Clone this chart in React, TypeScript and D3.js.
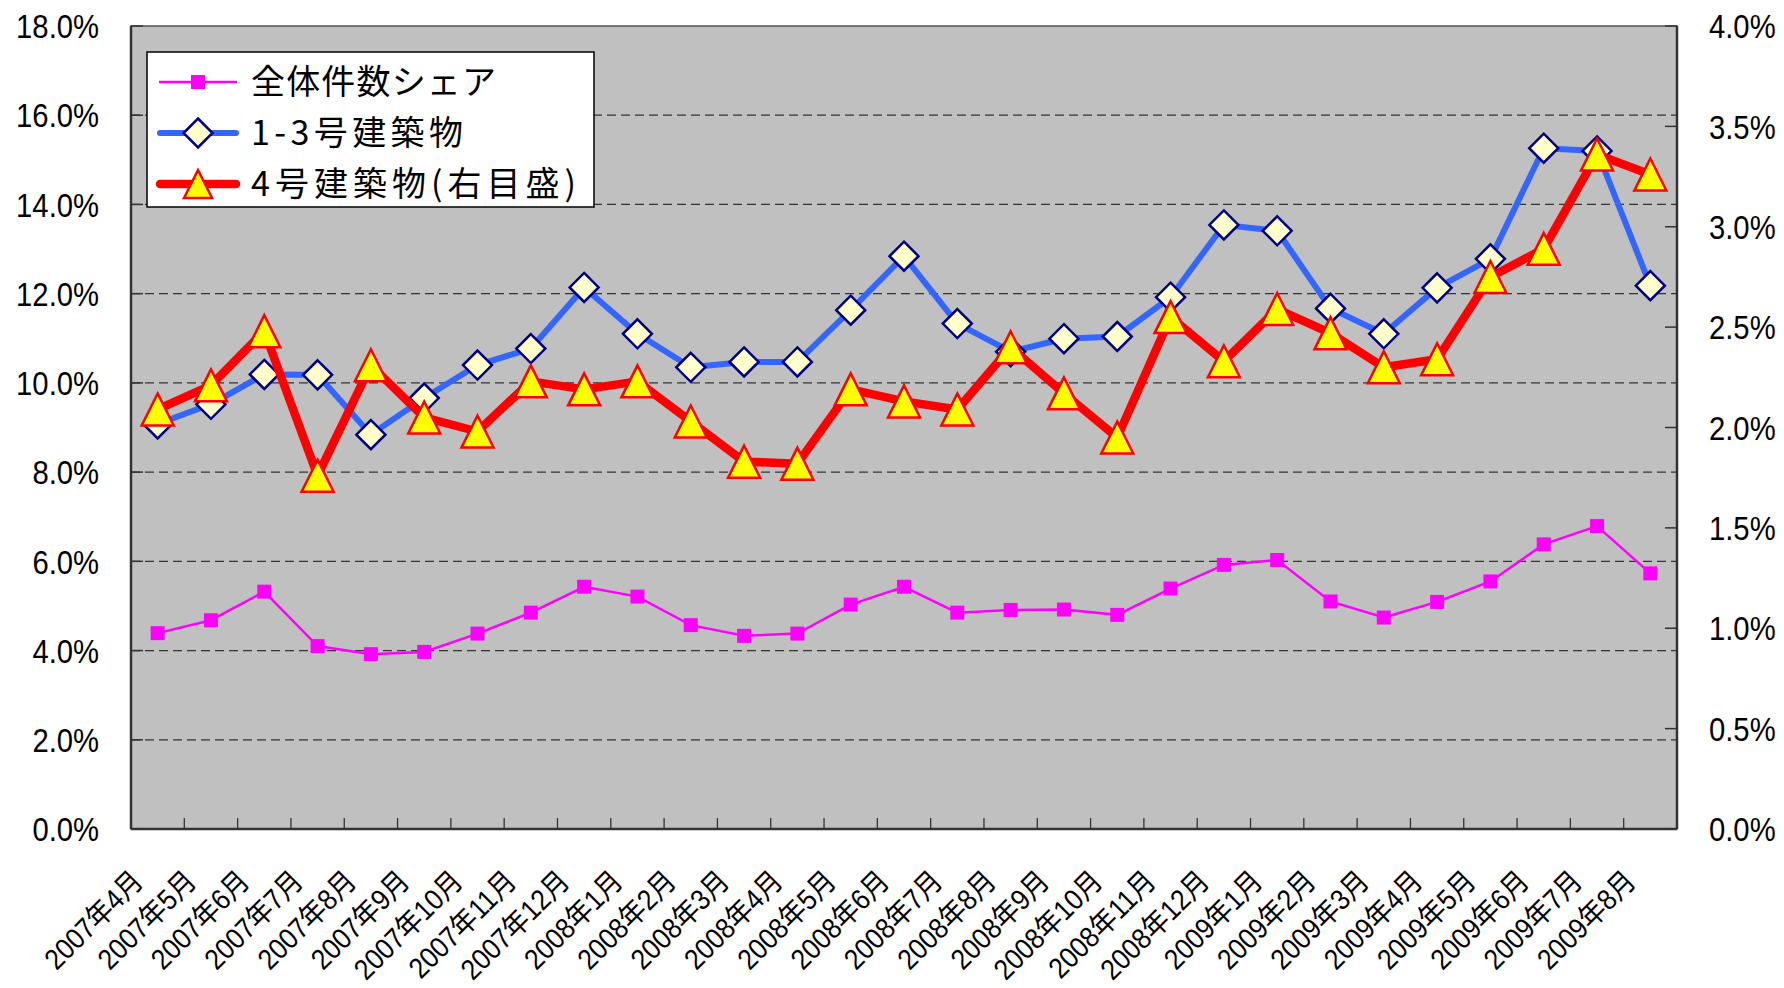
import React from "react"
import * as d3 from "d3"

const months = [
  "2007年4月", "2007年5月", "2007年6月", "2007年7月", "2007年8月", "2007年9月",
  "2007年10月", "2007年11月", "2007年12月", "2008年1月", "2008年2月", "2008年3月",
  "2008年4月", "2008年5月", "2008年6月", "2008年7月", "2008年8月", "2008年9月",
  "2008年10月", "2008年11月", "2008年12月", "2009年1月", "2009年2月", "2009年3月",
  "2009年4月", "2009年5月", "2009年6月", "2009年7月", "2009年8月",
]

// 全体件数シェア (left axis, %)
const totalShare = [
  4.39, 4.68, 5.32, 4.1, 3.92, 3.97, 4.38, 4.85, 5.43, 5.21, 4.57, 4.33, 4.38, 5.03, 5.43,
  4.85, 4.91, 4.92, 4.8, 5.39, 5.92, 6.03, 5.1, 4.74, 5.09, 5.55, 6.38, 6.79, 5.73,
]

// 1-3号建築物 (left axis, %)
const type13 = [
  9.08, 9.52, 10.19, 10.18, 8.84, 9.66, 10.4, 10.77, 12.14, 11.1, 10.35, 10.47, 10.47, 11.63,
  12.84, 11.33, 10.7, 10.99, 11.04, 11.92, 13.54, 13.41, 11.67, 11.1, 12.13, 12.78, 15.26,
  15.2, 12.18,
]

// 4号建築物 (right axis, %)
const type4 = [
  2.09, 2.21, 2.48, 1.76, 2.31, 2.05, 1.98, 2.23, 2.19, 2.23, 2.03, 1.83, 1.82, 2.19, 2.13,
  2.09, 2.4, 2.17, 1.95, 2.55, 2.33, 2.59, 2.47, 2.3, 2.34, 2.75, 2.89, 3.36, 3.26,
]

const leftTicks = [0, 2, 4, 6, 8, 10, 12, 14, 16, 18]
const rightTicks = [0, 0.5, 1, 1.5, 2, 2.5, 3, 3.5, 4]
const legendLabels = ["全体件数シェア", "1-3号建築物", "4号建築物(右目盛)"]

const W = 1784
const H = 988
const M = { left: 131, right: 1677, top: 26, bottom: 829 }

const numFont = "'Liberation Sans', Arial, 'Noto Sans CJK JP', sans-serif"
const cjkFont = "'Noto Sans CJK JP', 'Liberation Sans', sans-serif"

function Diamond({ x, y, r }: { x: number; y: number; r: number }) {
  return (
    <path
      d={`M${x},${y - r}L${x + r},${y}L${x},${y + r}L${x - r},${y}Z`}
      fill="#FFFFCC"
      stroke="#000080"
      strokeWidth={2.5}
    />
  )
}

function Triangle({ x, y, r }: { x: number; y: number; r: number }) {
  return (
    <path
      d={`M${x},${y - r}L${x + r},${y + r}L${x - r},${y + r}Z`}
      fill="#FFFF00"
      stroke="#FF0000"
      strokeWidth={2.5}
    />
  )
}

// condensed-looking axis number
function AxisNum({ x, y, anchor, children }: { x: number; y: number; anchor: string; children: any }) {
  return (
    <text
      transform={`translate(${x},${y}) scale(0.86,1)`}
      dy="0.36em"
      textAnchor={anchor}
      fontFamily={numFont}
      fontSize={34}
      fill="#000"
    >
      {children}
    </text>
  )
}

export default function App() {
  const x = d3.scaleBand<string>().domain(months).range([M.left, M.right])
  const yL = d3.scaleLinear().domain([0, 18]).range([M.bottom, M.top])
  const yR = d3.scaleLinear().domain([0, 4]).range([M.bottom, M.top])
  const cx = (i: number) => (x(months[i]) ?? 0) + x.bandwidth() / 2

  const lineL = d3
    .line<number>()
    .x((_, i) => cx(i))
    .y(d => yL(d))
  const lineR = d3
    .line<number>()
    .x((_, i) => cx(i))
    .y(d => yR(d))

  const fmt = d3.format(".1f")
  const boundaries = d3.range(1, months.length).map(i => M.left + i * x.bandwidth())

  const legendRows = [82, 133, 184]
  const legendWidths = [245, 212, 325]

  return (
    <svg
      width={W}
      height={H}
      style={{ position: "absolute", left: 0, top: 0, background: "#fff" }}
    >
      <rect
        x={M.left}
        y={M.top}
        width={M.right - M.left}
        height={M.bottom - M.top}
        fill="#C0C0C0"
        stroke="#555"
        strokeWidth={1.5}
      />

      {/* gridlines */}
      {leftTicks
        .filter(t => t > 0 && t < 18)
        .map(t => (
          <line
            key={"g" + t}
            x1={M.left}
            x2={M.right}
            y1={yL(t)}
            y2={yL(t)}
            stroke="#333"
            strokeWidth={1.3}
            strokeDasharray="9,5"
          />
        ))}

      {/* axes */}
      <line x1={M.left} x2={M.left} y1={M.top} y2={M.bottom} stroke="#333" strokeWidth={2.5} />
      <line x1={M.right} x2={M.right} y1={M.top} y2={M.bottom} stroke="#333" strokeWidth={2.5} />
      <line x1={M.left} x2={M.right} y1={M.bottom} y2={M.bottom} stroke="#333" strokeWidth={2.5} />

      {leftTicks.map(t => (
        <g key={"l" + t}>
          <line x1={M.left} x2={M.left + 12} y1={yL(t)} y2={yL(t)} stroke="#333" strokeWidth={1.5} />
          <AxisNum x={99} y={yL(t)} anchor="end">
            {fmt(t)}%
          </AxisNum>
        </g>
      ))}

      {rightTicks.map(t => (
        <g key={"r" + t}>
          <line x1={M.right - 12} x2={M.right} y1={yR(t)} y2={yR(t)} stroke="#333" strokeWidth={1.5} />
          <AxisNum x={1709} y={yR(t)} anchor="start">
            {fmt(t)}%
          </AxisNum>
        </g>
      ))}

      {boundaries.map((b, i) => (
        <line key={"b" + i} x1={b} x2={b} y1={M.bottom - 11} y2={M.bottom} stroke="#333" strokeWidth={1.3} />
      ))}

      {months.map((m, i) => (
        <text
          key={m}
          transform={`translate(${cx(i) - 13},${M.bottom + 54}) rotate(-45) scale(0.9,1)`}
          textAnchor="end"
          fontFamily={numFont}
          fontSize={29}
          fill="#000"
        >
          {m}
        </text>
      ))}

      {/* 全体件数シェア */}
      <path d={lineL(totalShare) ?? ""} fill="none" stroke="#FF00FF" strokeWidth={2.5} />
      {totalShare.map((d, i) => (
        <rect key={"p" + i} x={cx(i) - 7} y={yL(d) - 7} width={14} height={14} fill="#FF00FF" />
      ))}

      {/* 1-3号建築物 */}
      <path
        d={lineL(type13) ?? ""}
        fill="none"
        stroke="#3366FF"
        strokeWidth={6}
        strokeLinejoin="round"
        strokeLinecap="round"
      />
      {type13.map((d, i) => (
        <Diamond key={"d" + i} x={cx(i)} y={yL(d)} r={14.5} />
      ))}

      {/* 4号建築物 */}
      <path
        d={lineR(type4) ?? ""}
        fill="none"
        stroke="#FF0000"
        strokeWidth={8.5}
        strokeLinejoin="round"
        strokeLinecap="round"
      />
      {type4.map((d, i) => (
        <Triangle key={"t" + i} x={cx(i)} y={yR(d)} r={16} />
      ))}

      {/* legend */}
      <rect x={147} y={52} width={447} height={155} fill="#fff" stroke="#000" strokeWidth={1.5} />
      <line x1={159} x2={237} y1={legendRows[0]} y2={legendRows[0]} stroke="#FF00FF" strokeWidth={2.5} />
      <rect x={198 - 7} y={legendRows[0] - 7} width={14} height={14} fill="#FF00FF" />
      <line
        x1={160}
        x2={236}
        y1={legendRows[1]}
        y2={legendRows[1]}
        stroke="#3366FF"
        strokeWidth={6}
        strokeLinecap="round"
      />
      <Diamond x={198} y={legendRows[1]} r={14.5} />
      <line
        x1={160}
        x2={236}
        y1={legendRows[2]}
        y2={legendRows[2]}
        stroke="#FF0000"
        strokeWidth={8.5}
        strokeLinecap="round"
      />
      <Triangle x={198} y={legendRows[2]} r={14} />
      {legendLabels.map((l, i) => (
        <text
          key={l}
          x={251}
          y={legendRows[i]}
          dy="0.36em"
          fontFamily={cjkFont}
          fontSize={34}
          textLength={legendWidths[i]}
          lengthAdjust="spacing"
          fill="#000"
        >
          {l}
        </text>
      ))}
    </svg>
  )
}
